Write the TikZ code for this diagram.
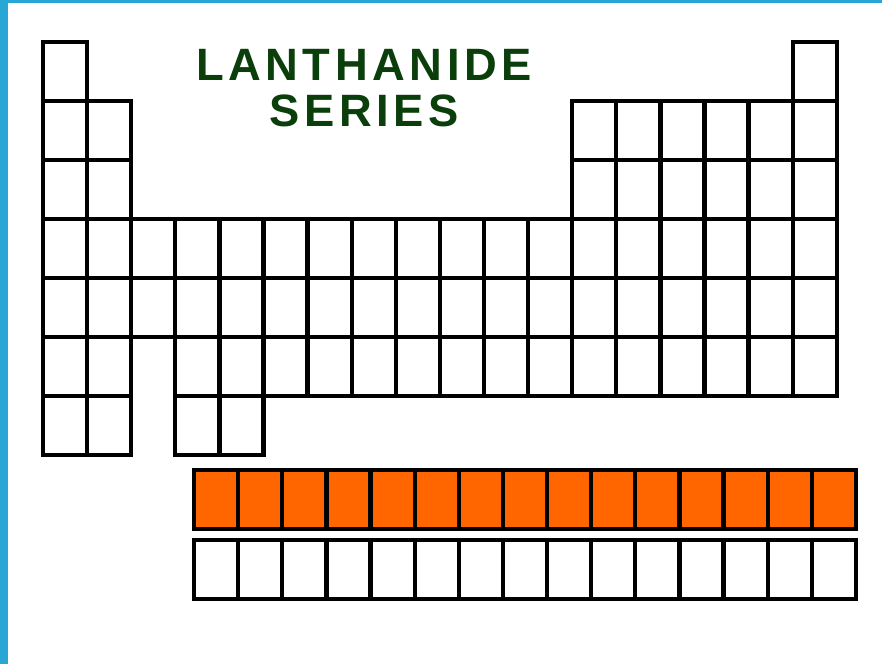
\documentclass[tikz,border=0pt]{standalone}
\usepackage{fontspec}
\usepackage{tikz}
\usepackage{xcolor}
\newfontfamily\titlefont[LetterSpace=10]{Liberation Sans}
\definecolor{frameblue}{RGB}{40,166,214}
\definecolor{lanorange}{RGB}{255,102,0}
\definecolor{titlegreen}{RGB}{10,62,10}

\begin{document}
\begin{tikzpicture}[x=0.75pt,y=0.75pt,
  cellgrid/.style={line width=3.2pt,line cap=rect,step=1},
  title/.style={font=\titlefont\bfseries\fontsize{34}{34}\selectfont,text=titlegreen,inner sep=0pt}]
\useasboundingbox (0,0) rectangle (882,664);
\fill[white] (0,0) rectangle (882,664);
\fill[frameblue] (0,0) rectangle (8,664);
\fill[frameblue] (0,660.5) rectangle (882,664);
\node[title] (lanthanide) at (364,599) {LANTHANIDE};
\node[title] (series) at (364,553) {SERIES};
% main table, one unit = one cell
\begin{scope}[shift={(32.25pt,156.75pt)},x=33.075pt,y=44.25pt]
\draw[cellgrid] (0,0) grid (1,7);
\draw[cellgrid] (1,0) grid (2,6);
\draw[cellgrid] (2,2) grid (3,4);
\draw[cellgrid] (3,0) grid (5,4);
\draw[cellgrid] (5,1) grid (12,4);
\draw[cellgrid] (12,1) grid (17,6);
\draw[cellgrid] (17,1) grid (18,7);
\end{scope}
% lanthanides
\begin{scope}[shift={(145.5pt,101.25pt)},x=33.1pt,y=44.25pt]
\fill[lanorange] (0,0) rectangle (15,1);
\draw[cellgrid] (0,0) grid (15,1);
\end{scope}
% actinides
\begin{scope}[shift={(145.5pt,48.75pt)},x=33.1pt,y=44.25pt]
\draw[cellgrid] (0,0) grid (15,1);
\end{scope}
\end{tikzpicture}
\end{document}
